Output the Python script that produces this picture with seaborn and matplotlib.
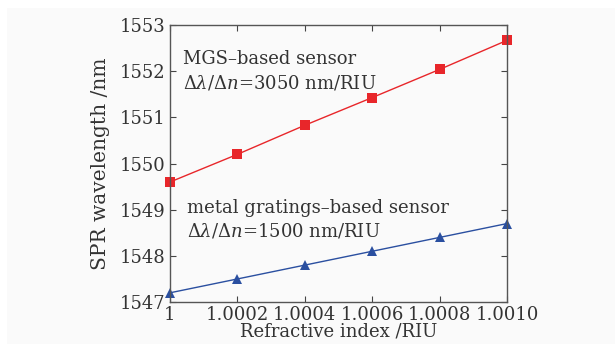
import matplotlib
matplotlib.use("Agg")
import matplotlib.pyplot as plt
from matplotlib.patches import Rectangle
import seaborn as sns
import pandas as pd

# refractive index values and resonance wavelengths
refractive_index = [1.0, 1.0002, 1.0004, 1.0006, 1.0008, 1.0010]
mgs_wavelength = [1549.6, 1550.2, 1550.83, 1551.43, 1552.04, 1552.67]
metal_wavelength = [1547.2, 1547.5, 1547.8, 1548.1, 1548.4, 1548.7]
x_ticks = [1.0, 1.0002, 1.0004, 1.0006, 1.0008, 1.0010]
x_tick_labels = ["1", "1.0002", "1.0004", "1.0006", "1.0008", "1.0010"]
y_ticks = [1547, 1548, 1549, 1550, 1551, 1552, 1553]

sns.set_style("ticks")
plt.rcParams['font.family'] = ['DejaVu Serif']
plt.rcParams['mathtext.fontset'] = 'dejavuserif'

fig = plt.figure(figsize=(6.15, 3.44), dpi=100, facecolor='white')
# light grey panel behind the chart, white strip at top / left edge
fig.patches.append(Rectangle((7 / 615, 0), 1, 336 / 344, transform=fig.transFigure,
                             facecolor='#fafafa', edgecolor='none', zorder=-10))
ax = fig.add_axes([0.2764, 0.122, 0.548, 0.805])
ax.set_facecolor('#fafafa')

df_mgs = pd.DataFrame({'n': refractive_index, 'wl': mgs_wavelength})
df_metal = pd.DataFrame({'n': refractive_index, 'wl': metal_wavelength})

sns.lineplot(data=df_mgs, x='n', y='wl', ax=ax, color='#e8262a', lw=1.0,
             marker='s', markersize=7, markeredgewidth=0, clip_on=False)
sns.lineplot(data=df_metal, x='n', y='wl', ax=ax, color='#2a4fa0', lw=1.0,
             marker='^', markersize=7, markeredgewidth=0, clip_on=False)

ax.set_xlim(1.0, 1.0010)
ax.set_ylim(1547, 1553)
ax.set_xticks(x_ticks)
ax.set_xticklabels(x_tick_labels)
ax.set_yticks(y_ticks)
ax.tick_params(direction='in', top=True, right=True, labelsize=13,
               color='#444444', labelcolor='#333333', length=4, pad=3)
for s in ax.spines.values():
    s.set_color('#555555')
    s.set_linewidth(1.0)

ax.set_xlabel('Refractive index /RIU', fontsize=13, color='#333333', labelpad=-1)
ax.set_ylabel('SPR wavelength /nm', fontsize=14.5, color='#333333', labelpad=7)

ax.text(0.04, 0.86, 'MGS\u2013based sensor', transform=ax.transAxes,
        fontsize=13, color='#333333')
ax.text(0.04, 0.77, r'$\Delta\lambda/\Delta n$=3050 nm/RIU', transform=ax.transAxes,
        fontsize=13, color='#333333')
ax.text(0.05, 0.32, 'metal gratings\u2013based sensor', transform=ax.transAxes,
        fontsize=13, color='#333333')
ax.text(0.05, 0.235, r'$\Delta\lambda/\Delta n$=1500 nm/RIU', transform=ax.transAxes,
        fontsize=13, color='#333333')

fig.savefig('out.png', dpi=100, facecolor=fig.get_facecolor())
